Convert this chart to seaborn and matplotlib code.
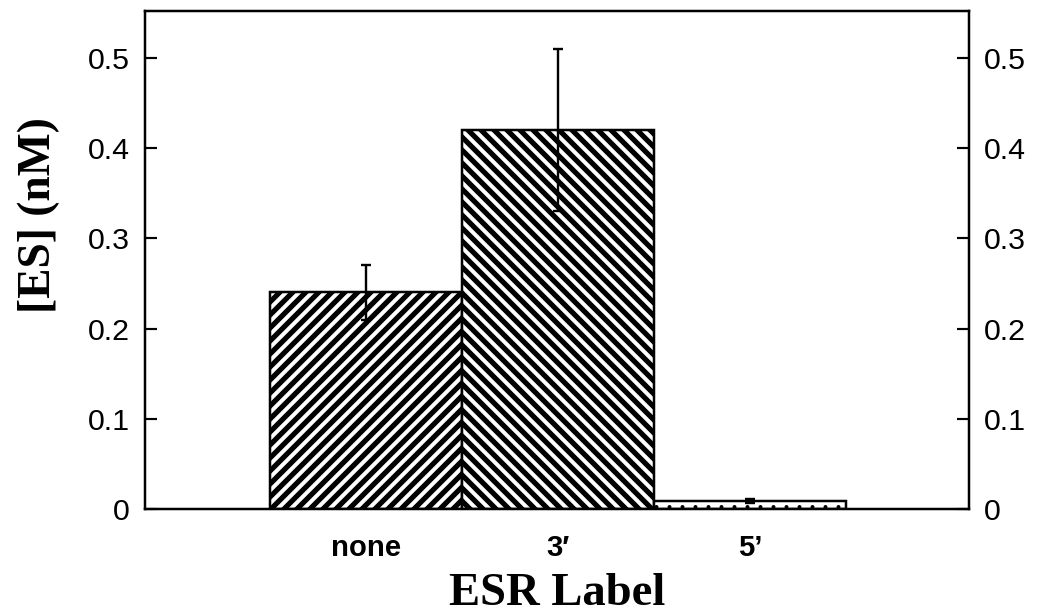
import matplotlib

matplotlib.use("Agg")
import matplotlib.pyplot as plt
import seaborn as sns

# values
categories = ["none", "3\u2032", "5\u2019"]
es_nM = [0.24, 0.42, 0.009]
es_err = [0.03, 0.09, 0.002]
hatches = ["//", "\\\\", "."]
y_ticks = [0, 0.1, 0.2, 0.3, 0.4, 0.5]
y_tick_labels = ["0", "0.1", "0.2", "0.3", "0.4", "0.5"]

DPI = 78

sns.set_theme(style="ticks")
plt.rcParams.update(
    {
        "font.family": ["Liberation Sans", "DejaVu Sans"],
        "text.color": "black",
        "axes.labelcolor": "black",
        "hatch.color": "black",
        "hatch.linewidth": 4.8,
        "axes.linewidth": 2.3,
        "axes.edgecolor": "black",
    }
)

fig = plt.figure(figsize=(1041 / DPI, 613 / DPI), dpi=DPI)
ax = fig.add_axes([0.1393, 0.1697, 0.7915, 0.8124])

sns.barplot(
    x=categories,
    y=es_nM,
    width=1.0,
    color="white",
    saturation=1,
    edgecolor="black",
    linewidth=2.3,
    errorbar=None,
    ax=ax,
)
for bar, h in zip(ax.patches, hatches):
    bar.set_hatch(h)
    if h == "." and hasattr(bar, "set_hatch_linewidth"):
        bar.set_hatch_linewidth(1.2)

ax.errorbar(
    range(len(categories)),
    es_nM,
    yerr=es_err,
    fmt="none",
    ecolor="black",
    elinewidth=2.2,
    capsize=4.5,
    capthick=2.2,
    zorder=5,
)

ax.set_xlim(-1.15, 3.14)
ax.set_ylim(0, 0.552)
ax.set_yticks(y_ticks)
ax.set_yticklabels(y_tick_labels)

ax.tick_params(
    axis="y",
    direction="in",
    length=11,
    width=2,
    left=True,
    right=True,
    labelleft=True,
    labelright=True,
    labelsize=28,
    pad=14,
    colors="black",
)
ax.tick_params(axis="x", length=0, labelsize=27, pad=23, colors="black")
for lab in ax.get_xticklabels():
    lab.set_fontweight("bold")

for side in ["top", "right", "left", "bottom"]:
    ax.spines[side].set_visible(True)
    ax.spines[side].set_linewidth(2.3)

ax.set_xlabel("ESR Label", family="Liberation Serif", fontweight="bold", fontsize=43)
ax.set_ylabel("[ES] (nM)", family="Liberation Serif", fontweight="bold", fontsize=42)
ax.xaxis.set_label_coords(0.5, -0.128)
ax.yaxis.set_label_coords(-0.103, 0.59)

fig.savefig("out.png", dpi=DPI)
